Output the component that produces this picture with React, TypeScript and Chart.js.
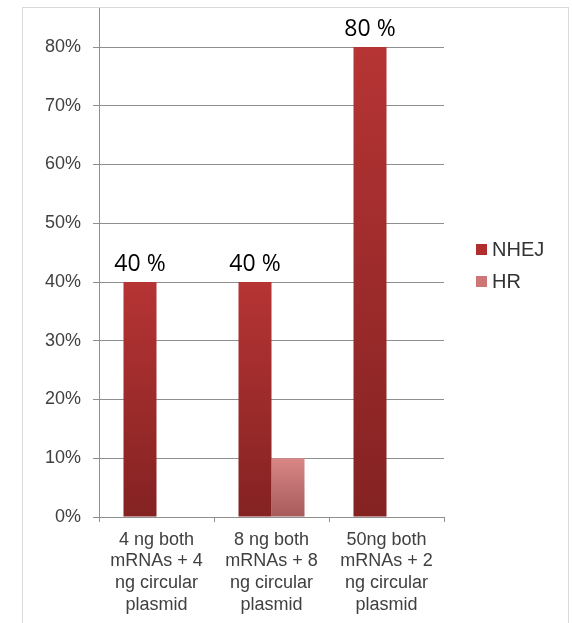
import React, { useEffect, useRef } from "react";
import { Chart, registerables } from "chart.js";

Chart.register(...registerables);

const categories: string[][] = [
  ["4 ng both", "mRNAs + 4", "ng circular", "plasmid"],
  ["8 ng both", "mRNAs + 8", "ng circular", "plasmid"],
  ["50ng both", "mRNAs + 2", "ng circular", "plasmid"],
];
const nhejValues: (number | null)[] = [40, 40, 80];
const hrValues: (number | null)[] = [null, 10, null];
const seriesNames = ["NHEJ", "HR"];
const yTicks = [0, 10, 20, 30, 40, 50, 60, 70, 80];

const NHEJ_TOP = "#b63434";
const NHEJ_BOTTOM = "#842222";
const HR_TOP = "#da8686";
const HR_BOTTOM = "#a65a5a";
const NHEJ_KEY = "#b02e2e";
const HR_KEY = "#cc7676";
const GRID = "#8e8e8e";

function barGradient(top: string, bottom: string) {
  return (ctx: any) => {
    const chart = ctx.chart;
    const y = chart.scales?.y;
    const v = ctx.raw;
    if (!chart.chartArea || !y || v == null) return top;
    const y0 = y.getPixelForValue(v);
    const y1 = y.getPixelForValue(0);
    if (!isFinite(y0) || !isFinite(y1) || y0 === y1) return top;
    const g = chart.ctx.createLinearGradient(0, y0, 0, y1);
    g.addColorStop(0, top);
    g.addColorStop(1, bottom);
    return g;
  };
}

const extrasPlugin = {
  id: "extras",
  beforeDatasetsDraw(chart: any) {
    // extend y axis line up to the frame top
    const { ctx, chartArea } = chart;
    ctx.save();
    ctx.strokeStyle = GRID;
    ctx.lineWidth = 1;
    ctx.beginPath();
    ctx.moveTo(chartArea.left + 0.5, 0);
    ctx.lineTo(chartArea.left + 0.5, chartArea.top);
    ctx.stroke();
    ctx.restore();
  },
  afterDatasetsDraw(chart: any) {
    const { ctx, chartArea } = chart;
    // data labels on NHEJ
    const meta = chart.getDatasetMeta(0);
    ctx.save();
    ctx.fillStyle = "#000";
    ctx.font = '23px "Open Sans"';
    ctx.textAlign = "center";
    ctx.textBaseline = "alphabetic";
    meta.data.forEach((bar: any, i: number) => {
      const v = nhejValues[i];
      if (v == null) return;
      ctx.fillText(v + " %", bar.x, bar.y - 11);
    });
    // legend
    const colors = [NHEJ_KEY, HR_KEY];
    const x0 = chartArea.right + 32;
    const midY = (chartArea.top + chartArea.bottom) / 2 - 33;
    ctx.font = '20px "Liberation Sans"';
    ctx.textAlign = "left";
    ctx.textBaseline = "middle";
    seriesNames.forEach((name, i) => {
      const cy = midY + i * 32;
      ctx.fillStyle = colors[i];
      ctx.fillRect(x0, cy - 5, 11, 11);
      ctx.fillStyle = "#333";
      ctx.fillText(name, x0 + 16, cy + 1);
    });
    ctx.restore();
  },
};

export default function App() {
  const ref = useRef<HTMLCanvasElement>(null);
  useEffect(() => {
    if (!ref.current) return;
    const chart = new Chart(ref.current, {
      type: "bar",
      data: {
        labels: categories,
        datasets: [
          {
            label: seriesNames[0],
            data: nhejValues,
            backgroundColor: barGradient(NHEJ_TOP, NHEJ_BOTTOM),
            categoryPercentage: 0.574,
            barPercentage: 1,
          },
          {
            label: seriesNames[1],
            data: hrValues,
            backgroundColor: barGradient(HR_TOP, HR_BOTTOM),
            categoryPercentage: 0.574,
            barPercentage: 1,
          },
        ],
      },
      options: {
        animation: false,
        responsive: true,
        maintainAspectRatio: false,
        layout: { padding: { top: 39, right: 124, left: 0, bottom: 0 } },
        plugins: {
          legend: { display: false },
          tooltip: { enabled: false },
        },
        scales: {
          x: {
            offset: true,
            grid: {
              offset: true,
              drawOnChartArea: false,
              drawTicks: true,
              tickLength: 5,
              color: GRID,
            },
            border: { display: true, color: GRID },
            ticks: {
              color: "#404040",
              font: { family: "Liberation Sans", size: 18, lineHeight: 1.2 },
              padding: 7,
              maxRotation: 0,
              autoSkip: false,
            },
            afterFit: (s: any) => {
              s.height = 106;
            },
          },
          y: {
            min: 0,
            max: 80,
            afterBuildTicks: (s: any) => {
              s.ticks = yTicks.map((v) => ({ value: v }));
            },
            grid: { color: GRID, tickLength: 6, lineWidth: 1 },
            border: { display: true, color: GRID },
            ticks: {
              color: "#404040",
              font: { family: "Liberation Sans", size: 18 },
              padding: 12,
              callback: (v: any) => v + "%",
            },
            afterFit: (s: any) => {
              s.width = 76;
            },
          },
        },
      },
      plugins: [extrasPlugin],
    });
    return () => chart.destroy();
  }, []);

  return (
    <div
      style={{
        position: "fixed",
        left: 0,
        top: 0,
        width: 572,
        height: 623,
        background: "#fff",
        overflow: "hidden",
      }}
    >
      <div
        style={{
          position: "absolute",
          left: 22,
          top: 7,
          width: 545,
          height: 630,
          borderTop: "1px solid #d9d9d9",
          borderLeft: "1px solid #d9d9d9",
          borderRight: "1px solid #d9d9d9",
        }}
      >
        <div style={{ position: "relative", width: 545, height: 615 }}>
          <canvas ref={ref} />
        </div>
      </div>
    </div>
  );
}
